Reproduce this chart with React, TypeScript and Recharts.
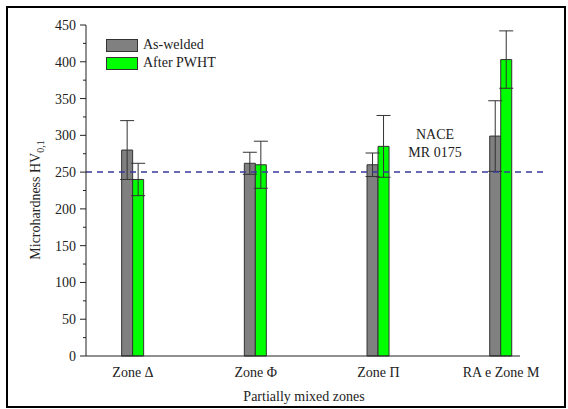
import React from 'react'
import {
  BarChart,
  Bar,
  XAxis,
  YAxis,
  ErrorBar,
  ReferenceLine,
  Label,
} from 'recharts'

// Microhardness per partially mixed zone, as-welded vs. after PWHT.
const zones = ['Zone Δ', 'Zone Φ', 'Zone Π', 'RA e Zone M']
const zonePos = [1, 2, 3, 4]
const asWelded = [280, 262, 260, 299]
const asWeldedErr = [40, 15, 16, 48]
const afterPwht = [240, 260, 285, 403]
const afterPwhtErr = [22, 32, 42, 39]
const yTicks = [0, 25, 50, 75, 100, 125, 150, 175, 200, 225, 250, 275, 300, 325, 350, 375, 400, 425, 450]
const naceLimit = 250

const FONT = '"Liberation Serif", "Times New Roman", serif'
const INK = '#222'
const GRAY = '#808080'
const GREEN = '#00ff00'

const data = zonePos.map((x, i) => ({
  x,
  name: zones[i],
  aw: asWelded[i],
  awErr: asWeldedErr[i],
  pw: afterPwht[i],
  pwErr: afterPwhtErr[i],
}))

const legendItems = [
  { label: 'As-welded', color: GRAY },
  { label: 'After PWHT', color: GREEN },
]

// y ticks: long marks + labels every 50, short marks at the 25s
function YTick(props: any) {
  const { x, y, payload } = props
  const major = payload.value % 50 === 0
  return (
    <g>
      <line x1={x - (major ? 6 : 3)} x2={x} y1={y} y2={y} stroke={INK} strokeWidth={1} />
      {major && (
        <text x={x - 10} y={y} dy={5} textAnchor="end" fontFamily={FONT} fontSize={14} fill={INK}>
          {payload.value}
        </text>
      )}
    </g>
  )
}

function XTick(props: any) {
  const { x, y, payload } = props
  return (
    <text x={x} y={y} dy={13} textAnchor="middle" fontFamily={FONT} fontSize={14} fill={INK}>
      {zones[zonePos.indexOf(payload.value)]}
    </text>
  )
}

function YTitle() {
  return (
    <text
      transform="translate(40, 200) rotate(-90)"
      textAnchor="middle"
      fontFamily={FONT}
      fontSize={14}
      fill={INK}
    >
      Microhardness HV
      <tspan fontSize={10} dy={4}>
        0,1
      </tspan>
    </text>
  )
}

function LegendBox() {
  return (
    <div
      style={{
        position: 'absolute',
        left: 106,
        top: 36,
        fontFamily: FONT,
        fontSize: 14,
        color: INK,
      }}
    >
      {legendItems.map((it) => (
        <div key={it.label} style={{ display: 'flex', alignItems: 'center', height: 18 }}>
          <span
            style={{
              display: 'inline-block',
              width: 30,
              height: 11,
              background: it.color,
              border: '1px solid #333',
              marginRight: 5,
            }}
          />
          <span>{it.label}</span>
        </div>
      ))}
    </div>
  )
}

export default function App() {
  return (
    <div
      style={{
        position: 'absolute',
        left: 0,
        top: 0,
        width: 568,
        height: 409,
        background: '#fff',
        overflow: 'hidden',
      }}
    >
      <BarChart
        width={568}
        height={409}
        data={data}
        barGap={0}
        margin={{ top: 25, right: 23, left: 26, bottom: 18 }}
      >
        <XAxis
          dataKey="x"
          type="number"
          domain={[0.617, 4.358]}
          ticks={zonePos}
          interval={0}
          tick={<XTick />}
          tickLine={false}
          axisLine={false}
          height={35}
        >
          <Label
            content={(p: any) => {
              const vb = p.viewBox || {}
              return (
                <text
                  x={vb.x + 218}
                  y={vb.y + 45}
                  textAnchor="middle"
                  fontFamily={FONT}
                  fontSize={14}
                  fill={INK}
                >
                  Partially mixed zones
                </text>
              )
            }}
          />
        </XAxis>
        <YAxis
          type="number"
          domain={[0, 450]}
          ticks={yTicks}
          interval={0}
          width={60}
          tickSize={0}
          tickMargin={0}
          tick={<YTick />}
          axisLine={{ stroke: INK, strokeWidth: 1 }}
          label={<YTitle />}
        />
        {/* bottom axis stops short of the plot's right edge */}
        <ReferenceLine
          segment={[
            { x: 0.617, y: 0 },
            { x: 4.154, y: 0 },
          ]}
          stroke={INK}
          strokeWidth={1}
        />
        <Bar dataKey="aw" fill={GRAY} stroke="#333" strokeWidth={1} barSize={11} isAnimationActive={false}>
          <ErrorBar dataKey="awErr" width={7} stroke="#333" strokeWidth={1} />
        </Bar>
        <Bar dataKey="pw" fill={GREEN} stroke="#333" strokeWidth={1} barSize={11} isAnimationActive={false}>
          <ErrorBar dataKey="pwErr" width={7} stroke="#333" strokeWidth={1} />
        </Bar>
        <ReferenceLine y={naceLimit} stroke="#3a3a9a" strokeWidth={1.5} strokeDasharray="6 5">
          <Label
            content={(p: any) => {
              const vb = p.viewBox || {}
              const cx = vb.x + 349
              const cy = vb.y
              return (
                <text textAnchor="middle" fontFamily={FONT} fontSize={14} fill={INK}>
                  <tspan x={cx} y={cy - 33}>NACE</tspan>
                  <tspan x={cx} y={cy - 15}>MR 0175</tspan>
                </text>
              )
            }}
          />
        </ReferenceLine>
      </BarChart>
      <LegendBox />
      <div
        style={{
          position: 'absolute',
          left: 6,
          top: 6,
          width: 560,
          height: 402,
          boxSizing: 'border-box',
          border: '2px solid #000',
          pointerEvents: 'none',
        }}
      />
    </div>
  )
}
